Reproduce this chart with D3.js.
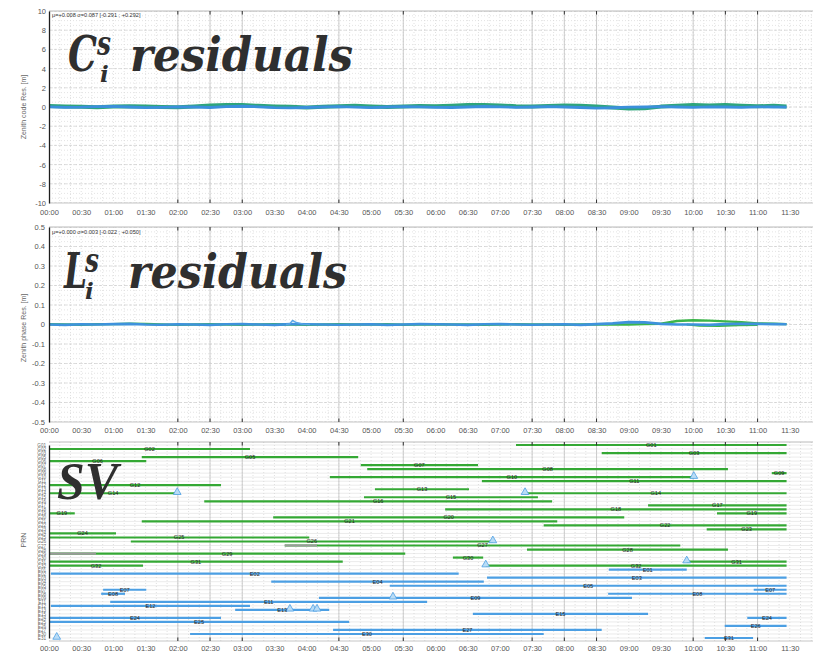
<!DOCTYPE html>
<html>
<head>
<meta charset="utf-8">
<script src="https://cdn.jsdelivr.net/npm/d3@7"></script>
<style>
  html, body { margin: 0; padding: 0; background: #fff; }
  svg { display: block; font-family: "Liberation Sans", Arial, sans-serif; }
</style>
</head>
<body>
<svg id="chart" width="813" height="652"></svg>
<script>
// ---------- data ----------
const timeTickLabels = ["00:00","00:30","01:00","01:30","02:00","02:30","03:00","03:30",
  "04:00","04:30","05:00","05:30","06:00","06:30","07:00","07:30","08:00","08:30",
  "09:00","09:30","10:00","10:30","11:00","11:30"];
// hours carrying a solid grid line and a tick mark
const majorGridHours = [2, 2.5, 3, 4.5, 5.5, 7.5, 8, 8.5, 10, 10.5, 11];

const codeTicks  = [10, 8, 6, 4, 2, 0, -2, -4, -6, -8, -10];
const phaseTicks = [0.5, 0.4, 0.3, 0.2, 0.1, 0, -0.1, -0.2, -0.3, -0.4, -0.5];

const codeStats  = "\u03bc=+0.008 \u03c3=0.087 [-0.291 ; +0.292]";
const phaseStats = "\u03bc=+0.000 \u03c3=0.003 [-0.022 ; +0.050]";

// epochs of the residual series (hours)
const sampleHours = [0,0.25,0.5,0.75,1,1.25,1.5,1.75,2,2.25,2.5,2.75,3,3.25,3.5,3.75,
  4,4.25,4.5,4.75,5,5.25,5.5,5.75,6,6.25,6.5,6.75,7,7.25,7.5,7.75,8,8.25,8.5,8.75,
  9,9.25,9.5,9.75,10,10.25,10.5,10.75,11,11.25,11.45];

// zenith code residuals [m]
const codeGps = [0.10,0.05,0.02,-0.03,0.04,0.08,0.05,0.00,-0.02,0.06,
  0.15,0.22,0.20,0.12,0.06,0.02,-0.04,0.02,0.08,0.12,
  0.06,0.00,0.04,0.10,0.08,0.14,0.20,0.22,0.16,0.08,
  0.04,0.10,0.16,0.12,0.04,-0.06,-0.16,-0.12,0.04,0.14,
  0.20,0.16,0.22,0.14,0.08,0.12,0.06];
const codeGal = [0.02,-0.04,-0.02,0.04,0.06,0.00,-0.06,-0.03,0.02,0.00,
  -0.05,0.04,0.08,0.02,-0.06,-0.10,-0.05,0.00,0.04,-0.02,
  -0.06,0.00,0.04,0.02,-0.03,-0.05,0.00,0.05,0.02,-0.04,
  0.00,0.03,0.00,-0.05,-0.12,-0.08,-0.02,0.00,0.03,0.00,
  -0.04,0.02,0.00,-0.03,0.02,0.00,-0.02];

// zenith phase residuals [m]
const phaseGps = [0.001,0.000,-0.001,0.001,0.002,0.004,0.003,0.000,-0.002,0.000,
  0.001,0.000,-0.001,0.000,0.001,0.000,-0.002,0.000,0.001,0.000,
  0.000,0.001,-0.001,0.000,0.001,0.000,0.000,-0.001,0.000,0.001,
  0.000,0.000,-0.001,0.000,0.001,0.000,0.000,0.002,0.004,0.018,
  0.022,0.020,0.016,0.012,0.006,0.004,0.002];
const phaseGal = [0.000,-0.002,0.001,0.000,0.002,0.003,0.000,-0.001,0.001,0.000,
  -0.002,0.001,0.002,0.000,-0.002,0.002,0.001,0.000,-0.001,0.000,
  0.001,-0.002,0.000,0.002,0.001,0.000,-0.002,0.001,0.002,0.000,
  -0.001,0.000,0.001,-0.002,0.002,0.006,0.012,0.011,0.003,0.000,
  0.000,-0.002,0.002,0.004,0.003,0.002,0.001];
const phaseGpsLow = [[9.9,0.000],[10.1,-0.006],[10.4,-0.008],[10.7,-0.004],[11.0,-0.002]];
const phaseGalSpike = [[3.68,0.000],[3.74,0.004],[3.78,0.021],[3.84,0.010],[3.95,0.002],[4.05,0.000]];

// satellites, top to bottom
const gpsPrns = ["G01","G02","G03","G05","G06","G07","G08","G09","G10","G11","G12","G13",
  "G14","G15","G16","G17","G18","G19","G20","G21","G22","G23","G24","G25","G26","G27",
  "G28","G29","G30","G31","G32"];
const galPrns = ["E01","E02","E03","E04","E05","E07","E08","E09","E11","E12","E13","E15",
  "E24","E25","E26","E27","E30","E31"];

// tracking arcs: [prn, start hour, end hour]
const gpsPasses = [
  ["G01",7.25,11.45],["G02",0,3.12],["G03",8.58,11.45],["G05",1.44,4.80],["G06",0,1.51],
  ["G07",4.84,6.66],["G08",4.94,10.54],["G09",11.22,11.45],["G10",4.36,10.01],
  ["G11",6.72,11.45],["G12",0,2.67],["G13",5.06,6.52],["G14",0,1.99],["G14",7.39,11.45],
  ["G15",4.89,7.59],["G16",2.41,7.81],["G17",9.30,11.45],["G18",6.15,11.45],
  ["G19",0,0.40],["G19",10.37,11.45],["G20",3.48,8.93],["G21",1.44,7.89],
  ["G22",7.68,11.45],["G23",10.21,11.45],["G24",0,1.04],["G25",0,4.04],["G26",1.27,6.89],
  ["G27",3.66,9.80],["G28",7.42,10.54],["G29",0,5.53],["G30",6.27,6.74],
  ["G31",0,4.56],["G31",9.90,11.45],["G32",0,1.46],["G32",6.78,11.45]
];
const galPasses = [
  ["E01",8.69,9.90],["E02",0.03,6.36],["E03",6.80,11.45],["E04",3.45,6.75],["E05",5.29,11.45],
  ["E07",0.84,1.51],["E07",10.94,11.45],["E08",0.81,1.18],["E08",8.68,11.45],
  ["E09",4.19,9.05],["E11",0.95,5.87],["E12",0.03,3.12],["E13",2.89,4.35],["E15",6.58,9.30],
  ["E24",0,2.67],["E24",10.84,11.45],["E25",0,4.66],["E26",10.49,11.45],["E27",4.41,8.58],
  ["E30",2.19,7.68],["E31",10.18,10.93]
];
// stretches flagged as unused
const unusedSpans = [["G29",0,0.73],["G27",3.66,4.16]];
// event markers: [prn, hour]
const slipEvents = [["G14",1.99],["G14",7.39],["G10",10.01],["G26",6.89],["G32",6.78],
  ["G31",9.90],["E09",5.34],["E13",3.74],["E13",4.10],["E13",4.16],["E31",0.12]];

// ---------- layout ----------
const svg = d3.select("#chart");
const X0 = 49, XR = 813;
const x = d3.scaleLinear().domain([0, 12]).range([X0, 822]);
const hourOf = s => { const [h, m] = s.split(":").map(Number); return h + m / 60; };
const fmtH = h => { const m = Math.round(h * 60);
  return String(Math.floor(m / 60)).padStart(2, "0") + ":" + String(m % 60).padStart(2, "0"); };

const panels = {
  code:  { top: 11,  bot: 203, pad: 7 },
  phase: { top: 227, bot: 422, pad: 6 },
  sv:    { top: 442, bot: 641, pad: 4.5 }
};

const defs = svg.append("defs");
Object.entries(panels).forEach(([k, p]) => {
  defs.append("clipPath").attr("id", "clip-" + k)
    .append("rect").attr("x", X0).attr("y", p.top).attr("width", XR - X0).attr("height", p.bot - p.top);
});

function drawGrid(key, hMinor, hMajor, yScale) {
  const p = panels[key];
  const g = svg.append("g").attr("clip-path", `url(#clip-${key})`);
  // dotted minor verticals every 10 minutes
  g.append("g").selectAll("line").data(d3.range(0, 12.001, 1 / 6)).join("line")
    .attr("x1", d => x(d)).attr("x2", d => x(d)).attr("y1", p.top).attr("y2", p.bot)
    .attr("stroke", "#d4d4d4").attr("stroke-width", 0.7).attr("stroke-dasharray", "1,2");
  if (hMinor) {
    g.append("g").selectAll("line").data(hMinor).join("line")
      .attr("x1", X0).attr("x2", XR).attr("y1", d => yScale(d)).attr("y2", d => yScale(d))
      .attr("stroke", "#d8d8d8").attr("stroke-width", 0.7).attr("stroke-dasharray", "1,2");
  }
  if (hMajor) {
    g.append("g").selectAll("line").data(hMajor).join("line")
      .attr("x1", X0).attr("x2", XR).attr("y1", d => yScale(d)).attr("y2", d => yScale(d))
      .attr("stroke", "#cfcfcf").attr("stroke-width", 0.7).attr("stroke-dasharray", "3,2");
  }
  g.append("g").selectAll("line").data(majorGridHours).join("line")
    .attr("x1", d => x(d)).attr("x2", d => x(d)).attr("y1", p.top).attr("y2", p.bot)
    .attr("stroke", "#c6c6c6").attr("stroke-width", 0.9);
  return g;
}

function drawFrame(key) {
  const p = panels[key];
  const f = svg.append("g");
  f.append("line").attr("x1", X0).attr("x2", XR).attr("y1", p.top).attr("y2", p.top)
    .attr("stroke", "#a8a8a8").attr("stroke-width", 0.8);
  f.append("line").attr("x1", X0).attr("x2", XR).attr("y1", p.bot).attr("y2", p.bot)
    .attr("stroke", "#b8b8b8").attr("stroke-width", 0.8);
  f.selectAll(".tt").data(majorGridHours).join("line")
    .attr("x1", d => x(d)).attr("x2", d => x(d)).attr("y1", p.top).attr("y2", p.top + 3.5)
    .attr("stroke", "#333").attr("stroke-width", 1);
  f.selectAll(".tb").data(majorGridHours).join("line")
    .attr("x1", d => x(d)).attr("x2", d => x(d)).attr("y1", p.bot - 3.5).attr("y2", p.bot)
    .attr("stroke", "#333").attr("stroke-width", 1);
  // time axis labels
  const ax = svg.append("g").attr("transform", `translate(0,${p.bot})`)
    .call(d3.axisBottom(x).tickValues(timeTickLabels.map(hourOf)).tickFormat(fmtH)
      .tickSize(0).tickPadding(p.pad));
  ax.select(".domain").remove();
  ax.selectAll("text").attr("font-size", 7.5).attr("fill", "#555")
    .attr("font-family", "'Liberation Sans', Arial, sans-serif");
}

function drawYAxis(key, yScale, ticks, fmt, pad) {
  const ax = svg.append("g").attr("transform", `translate(${X0},0)`)
    .call(d3.axisLeft(yScale).tickValues(ticks).tickFormat(fmt).tickSize(0).tickSizeOuter(0).tickPadding(pad));
  ax.select(".domain").attr("stroke", "#1e1e1e").attr("stroke-width", 1.3);
  ax.selectAll("text").attr("font-size", 7.5).attr("fill", "#555")
    .attr("font-family", "'Liberation Sans', Arial, sans-serif");
  return ax;
}

function yTitle(text, cy) {
  svg.append("text").attr("transform", `translate(26,${cy}) rotate(-90)`)
    .attr("text-anchor", "middle").attr("font-size", 7).attr("fill", "#666").text(text);
}

// ---------- code residuals ----------
const yCode = d3.scaleLinear().domain([-10, 10]).range([panels.code.bot, panels.code.top]);
const gCode = drawGrid("code", d3.range(-10, 10.01, 0.5), codeTicks, yCode);
const lineCode = d3.line().x((d, i) => x(sampleHours[i])).y(d => yCode(d));
gCode.append("path").datum(codeGps).attr("d", lineCode).attr("fill", "none")
  .attr("stroke", "#2ea57c").attr("stroke-width", 4).attr("stroke-linejoin", "round");
gCode.append("path").datum(codeGal).attr("d", lineCode).attr("fill", "none")
  .attr("stroke", "#3b8fdb").attr("stroke-width", 2.8).attr("stroke-linejoin", "round");
drawFrame("code");
drawYAxis("code", yCode, codeTicks, d => String(d), 3);
yTitle("Zenith code Res. [m]", 107);
svg.append("text").attr("x", 52).attr("y", 17).attr("font-size", 5.6).attr("fill", "#333").text(codeStats);

// ---------- phase residuals ----------
const yPhase = d3.scaleLinear().domain([-0.5, 0.5]).range([panels.phase.bot, panels.phase.top]);
const gPhase = drawGrid("phase", d3.range(-0.5, 0.501, 0.025), phaseTicks, yPhase);
const linePhase = d3.line().x((d, i) => x(sampleHours[i])).y(d => yPhase(d));
const linePairs = d3.line().x(d => x(d[0])).y(d => yPhase(d[1]));
gPhase.append("path").datum(phaseGps).attr("d", linePhase).attr("fill", "none")
  .attr("stroke", "#3cb54a").attr("stroke-width", 2.4).attr("stroke-linejoin", "round");
gPhase.append("path").datum(phaseGpsLow).attr("d", linePairs).attr("fill", "none")
  .attr("stroke", "#3cb54a").attr("stroke-width", 2).attr("stroke-linejoin", "round");
gPhase.append("path").datum(phaseGal).attr("d", linePhase).attr("fill", "none")
  .attr("stroke", "#3e92dc").attr("stroke-width", 2.6).attr("stroke-linejoin", "round");
gPhase.append("path").datum(phaseGalSpike).attr("d", linePairs).attr("fill", "none")
  .attr("stroke", "#5aa6e6").attr("stroke-width", 1.4).attr("stroke-linejoin", "round");
drawFrame("phase");
drawYAxis("phase", yPhase, phaseTicks, d => d === 0 ? "0" : d.toFixed(1), 4);
yTitle("Zenith phase Res. [m]", 328);
svg.append("text").attr("x", 52).attr("y", 234).attr("font-size", 5.6).attr("fill", "#333").text(phaseStats);

// ---------- satellite visibility ----------
const prns = gpsPrns.concat(galPrns);
const yRow = d3.scalePoint().domain(prns).range([445, 638]);
const gSv = drawGrid("sv", null, null, null);
gSv.insert("g", ":first-child").selectAll("line").data(prns).join("line")
  .attr("x1", X0).attr("x2", XR).attr("y1", d => yRow(d)).attr("y2", d => yRow(d))
  .attr("stroke", "#e2e2e2").attr("stroke-width", 0.7);

const passes = gpsPasses.map(d => ({ prn: d[0], t0: d[1], t1: d[2], c: "#34a834" }))
  .concat(galPasses.map(d => ({ prn: d[0], t0: d[1], t1: d[2], c: "#4c9fe3" })));
gSv.append("g").selectAll("line").data(passes).join("line")
  .attr("x1", d => x(d.t0)).attr("x2", d => x(d.t1))
  .attr("y1", d => yRow(d.prn)).attr("y2", d => yRow(d.prn))
  .attr("stroke", d => d.c).attr("stroke-width", 2.2);
gSv.append("g").selectAll("line").data(unusedSpans).join("line")
  .attr("x1", d => x(d[1])).attr("x2", d => x(d[2]))
  .attr("y1", d => yRow(d[0])).attr("y2", d => yRow(d[0]))
  .attr("stroke", "#9a9a9a").attr("stroke-width", 2.2);
gSv.append("g").selectAll("path").data(slipEvents).join("path")
  .attr("transform", d => `translate(${x(d[1])},${yRow(d[0]) - 1})`)
  .attr("d", d3.symbol(d3.symbolTriangle, 26))
  .attr("fill", "#b9dcf6").attr("stroke", "#4c9fe3").attr("stroke-width", 0.8);
gSv.append("g").selectAll("text").data(passes).join("text")
  .attr("x", d => x((d.t0 + d.t1) / 2)).attr("y", d => yRow(d.prn)).attr("dy", "0.35em")
  .attr("text-anchor", "middle").attr("font-size", 5.6).attr("fill", "#1e1e1e").text(d => d.prn);
drawFrame("sv");
const svAxis = svg.append("g").attr("transform", `translate(${X0},0)`)
  .call(d3.axisLeft(yRow).tickSize(0).tickPadding(3));
svAxis.select(".domain").attr("stroke", "#1e1e1e").attr("stroke-width", 1.3);
svAxis.selectAll("text").attr("font-size", 4.6).attr("fill", "#666")
  .attr("font-family", "'Liberation Sans', Arial, sans-serif");
yTitle("PRN", 540);

// ---------- panel captions ----------
const capFont = "'DejaVu Serif', 'Liberation Serif', serif";
function caption(letter, x0, w, supX, subX, base, resX, resW) {
  const t = svg.append("g").attr("font-family", capFont).attr("font-weight", "bold")
    .attr("font-style", "italic").attr("fill", "#2f2f2f");
  t.append("text").attr("x", x0).attr("y", base).attr("font-size", 48)
    .attr("textLength", w).attr("lengthAdjust", "spacingAndGlyphs").text(letter);
  t.append("text").attr("x", supX).attr("y", base - 16).attr("font-size", 34)
    .attr("textLength", 14).attr("lengthAdjust", "spacingAndGlyphs").text("s");
  t.append("text").attr("x", subX).attr("y", base + 11).attr("font-size", 23).text("i");
  t.append("text").attr("x", resX).attr("y", base).attr("font-size", 46)
    .attr("textLength", resW).attr("lengthAdjust", "spacingAndGlyphs").text("residuals");
}
caption("C", 68, 29, 97, 100, 71, 130, 223);
caption("L", 64, 23, 85, 85, 288, 128, 219);
svg.append("text").attr("x", 57).attr("y", 499).attr("font-family", "'Liberation Serif', serif")
  .attr("font-weight", "bold").attr("font-style", "italic").attr("font-size", 52)
  .attr("textLength", 61).attr("lengthAdjust", "spacingAndGlyphs")
  .attr("fill", "#2f2f2f").text("SV");
</script>
</body>
</html>
